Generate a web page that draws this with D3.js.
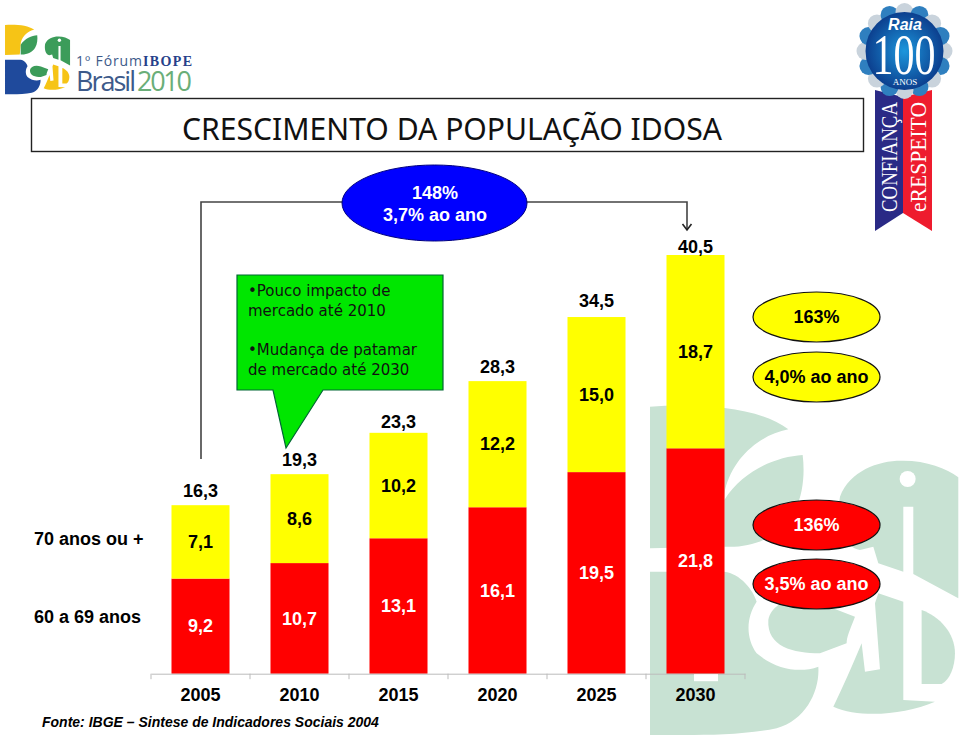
<!DOCTYPE html>
<html><head><meta charset="utf-8">
<script src="https://cdnjs.cloudflare.com/ajax/libs/d3/7.8.5/d3.min.js"></script>
<style>html,body{margin:0;background:#fff}svg{display:block}text{font-family:"Liberation Sans",Arial,sans-serif}</style>
</head><body><svg id="c" width="960" height="736"></svg>
<script>
const years = ["2005","2010","2015","2020","2025","2030"];
const age60to69 = [9.2,10.7,13.1,16.1,19.5,21.8];
const age70plus = [7.1,8.6,10.2,12.2,15.0,18.7];
const seriesNames = ["60 a 69 anos","70 anos ou +"];
const seriesColors = ["#ff0000","#ffff00"];
const seriesLabelColors = ["#ffffff","#000000"];
const totalLift = [14,14,11,14,16,8];

const svg = d3.select("#c");
const fmt = d3.formatLocale({decimal:",",thousands:".",grouping:[3],currency:["",""]}).format(".1f");
const x = d3.scaleBand().domain(years).range([151,745]).paddingInner(0.414).paddingOuter(0.207);
const y = d3.scaleLinear().domain([0,40.5]).range([673.7,255]);

// logo artwork (shared by the watermark and the top-left logo)
const logoShapes = [
 {d:"M90,50 C230,40 420,50 505,118 C420,135 340,200 315,300 L300,470 L90,475Z", c:"#f6c416"},
 {d:"M548,195 C470,200 370,240 313,330 L313,470 C400,475 480,440 520,370 C550,320 555,250 548,195Z", c:"#3c9c5a"},
 {d:"M90,545 L313,545 C360,550 400,600 410,635 C380,680 375,740 410,790 C470,840 540,850 595,830 C600,900 560,990 470,1015 C350,1040 200,1035 90,1035Z", c:"#1f4a9c"},
 {d:"M445,690 C455,640 520,610 600,640 L705,680 C690,720 680,740 680,760 L600,790 C520,790 440,770 445,690Z", c:"#3c9c5a"},
 {d:"M775,610 L850,635 L850,930 L945,935 C850,975 720,985 640,950 C665,900 700,820 725,760 L735,845 L780,838 L765,640Z", c:"#f6c416"},
 {d:"M905,660 C960,680 1005,730 1005,790 C1005,830 990,870 965,882 L905,882Z", c:"#f6c416"},
 {d:"M660,320 C690,240 780,210 850,212 C920,212 980,235 1015,262 L1015,625 L880,552 L880,350 L850,350 L850,545 L775,520 L760,470 L720,480 C660,470 650,380 660,320Z", c:"#3c9c5a"}
];
function drawLogo(g, colorFn){
  g.selectAll("path").data(logoShapes).join("path").attr("d",d=>d.d).attr("fill",colorFn);
  g.append("circle").attr("cx",863).attr("cy",267).attr("r",24).attr("fill","#fff");
}
drawLogo(svg.append("g").attr("transform","translate(620,390) scale(0.3333)"), ()=>"#c8e2d3");
drawLogo(svg.append("g").attr("transform","translate(-1.3,21.5) scale(0.0703)"), d=>d.c);

// logo wordmark
svg.append("text").attr("x",76).attr("y",66).attr("font-size",14).attr("fill","#3d5a8a").style("font-family","Open Sans").attr("textLength",66).text("1º Fórum");
svg.append("text").attr("x",143).attr("y",66).attr("font-size",14).attr("font-weight","bold").attr("fill","#26408a").style("font-family","Liberation Serif").attr("textLength",49).text("IBOPE");
svg.append("text").attr("x",76).attr("y",91).attr("font-size",27).attr("fill","#3d5a8a").style("font-family","Open Sans").attr("textLength",60).text("Brasil");
svg.append("text").attr("x",137).attr("y",91).attr("font-size",27).attr("fill","#6aae78").style("font-family","Open Sans").attr("textLength",55).text("2010");

// title box
svg.append("rect").attr("x",31.5).attr("y",98.5).attr("width",832).attr("height",53).attr("fill","#fff").attr("stroke","#222").attr("stroke-width",1.4);
svg.append("text").attr("x",182).attr("y",140).attr("font-size",31).attr("fill","#111").style("font-family","Noto Sans").attr("textLength",540).attr("lengthAdjust","spacingAndGlyphs").text("CRESCIMENTO DA POPULAÇÃO IDOSA");

// ribbon + rosette
svg.append("path").attr("d","M875,90 L903,97 L903,213 L875,231Z").attr("fill","#2a2a86");
svg.append("path").attr("d","M903,97 L932,90 L932,231 L903,213Z").attr("fill","#ee1c2e");
const vt=(xx,txt,fs,len)=>svg.append("text").attr("transform",`translate(${xx},212) rotate(-90)`).attr("fill","#fff").attr("font-size",fs).style("font-family","Liberation Serif").attr("textLength",len).attr("lengthAdjust","spacingAndGlyphs").text(txt);
vt(897,"CONFIANÇA",23,110);
vt(926,"eRESPEITO",23,110);
const defs=svg.append("defs");
const rg=defs.append("radialGradient").attr("id","rg");
rg.append("stop").attr("offset","0%").attr("stop-color","#1c96dc");
rg.append("stop").attr("offset","100%").attr("stop-color","#0c3f8e");
const n=16, rc=[904.5,51];
d3.range(n).forEach(i=>{
  const a=i/n*2*Math.PI;
  svg.append("circle").attr("cx",rc[0]+39*Math.cos(a)).attr("cy",rc[1]+39*Math.sin(a)).attr("r",9).attr("fill",i%2?"#2f7fbf":"#c9d3dc");
});
svg.append("circle").attr("cx",rc[0]).attr("cy",rc[1]).attr("r",39).attr("fill","url(#rg)");
svg.append("text").attr("x",905).attr("y",30).attr("text-anchor","middle").attr("font-size",16).attr("font-weight","bold").attr("font-style","italic").attr("fill","#fff").text("Raia");
svg.append("text").attr("x",904).attr("y",74).attr("text-anchor","middle").attr("font-size",56).attr("fill","#fff").style("font-family","Liberation Serif").attr("textLength",63).attr("lengthAdjust","spacingAndGlyphs").text("100");
svg.append("text").attr("x",905).attr("y",85).attr("text-anchor","middle").attr("font-size",9).attr("fill","#fff").style("font-family","Liberation Serif").text("ANOS");

// stacked bars
const rows = years.map((yr,i)=>({year:yr,a:age60to69[i],b:age70plus[i]}));
const stacked = d3.stack().keys(["a","b"])(rows);
const layer = svg.append("g").selectAll("g").data(stacked).join("g");
layer.selectAll("rect").data((s,k)=>s.map(p=>({p,k}))).join("rect")
  .attr("x",d=>x(d.p.data.year)).attr("width",x.bandwidth())
  .attr("y",d=>y(d.p[1])).attr("height",d=>y(d.p[0])-y(d.p[1]))
  .attr("fill",d=>seriesColors[d.k]);
layer.selectAll("text").data((s,k)=>s.map(p=>({p,k}))).join("text")
  .attr("x",d=>x(d.p.data.year)+x.bandwidth()/2).attr("y",d=>(y(d.p[0])+y(d.p[1]))/2)
  .attr("dy","0.35em").attr("text-anchor","middle").attr("font-size",18).attr("font-weight","bold")
  .attr("fill",d=>seriesLabelColors[d.k]).text(d=>fmt(d.k?d.p.data.b:d.p.data.a));
svg.append("g").selectAll("text").data(rows).join("text")
  .attr("x",d=>x(d.year)+x.bandwidth()/2).attr("y",(d,i)=>y(d.a+d.b)-totalLift[i])
  .attr("dy","0.35em").attr("text-anchor","middle").attr("font-size",18).attr("font-weight","bold").attr("fill","#000")
  .text(d=>fmt(d.a+d.b));

// axis
const ax = svg.append("g").attr("transform",`translate(0,${y(0)})`).call(d3.axisBottom(x).tickSize(0).tickPadding(15));
ax.select(".domain").attr("stroke","#bbb");
ax.selectAll("text").attr("font-size",18).attr("font-weight","bold").attr("fill","#000").style("font-family","Liberation Sans");
svg.append("g").selectAll("line").data(d3.range(years.length+1)).join("line")
  .attr("x1",i=>x.range()[0]+i*x.step()).attr("x2",i=>x.range()[0]+i*x.step())
  .attr("y1",y(0)).attr("y2",y(0)+5.5).attr("stroke","#bbb");
svg.append("rect").attr("x",694).attr("y",y(0)+.5).attr("width",24).attr("height",7).attr("fill","#fff");

// row labels
[[617,0],[539,1]].forEach(([yy,k])=>svg.append("text").attr("x",34).attr("y",yy).attr("dy","0.35em").attr("font-size",18).attr("font-weight","bold").attr("fill","#000").text(seriesNames[k]));

// source
svg.append("text").attr("x",42).attr("y",727).attr("font-size",14).attr("font-weight","bold").attr("font-style","italic").attr("fill","#000").text("Fonte: IBGE – Sintese de Indicadores Sociais 2004");

// growth bracket
svg.append("path").attr("d","M201,459 V202 H687 V230").attr("fill","none").attr("stroke","#444").attr("stroke-width",1.6);
svg.append("path").attr("d","M682.5,224 L687,230 L691.5,224").attr("fill","none").attr("stroke","#222").attr("stroke-width",1.6);
svg.append("ellipse").attr("cx",434.5).attr("cy",203).attr("rx",92.5).attr("ry",38).attr("fill","#0000ff").attr("stroke","#000080");
const ell=(cy,fill,col,txt)=>{
  svg.append("ellipse").attr("cx",816.5).attr("cy",cy).attr("rx",63.5).attr("ry",25).attr("fill",fill).attr("stroke","#111").attr("stroke-width",1.2);
  svg.append("text").attr("x",816.5).attr("y",cy).attr("dy","0.35em").attr("text-anchor","middle").attr("font-size",18).attr("font-weight","bold").attr("fill",col).text(txt);
};
svg.append("text").attr("x",435).attr("y",193).attr("dy","0.35em").attr("text-anchor","middle").attr("font-size",18).attr("font-weight","bold").attr("fill","#fff").text("148%");
svg.append("text").attr("x",435).attr("y",215).attr("dy","0.35em").attr("text-anchor","middle").attr("font-size",18).attr("font-weight","bold").attr("fill","#fff").text("3,7% ao ano");
ell(317,"#ffff00","#000","163%");
ell(377,"#ffff00","#000","4,0% ao ano");
ell(525,"#ff0000","#fff","136%");
ell(584,"#ff0000","#fff","3,5% ao ano");

// callout
svg.append("path").attr("d","M237,275 H443 V390 H323 L286,448 L273,390 H237Z").attr("fill","#00e600").attr("stroke","#063").attr("stroke-width",1.2);
[["•Pouco impacto de",248,296],["mercado até 2010",248,316],["•Mudança de patamar",248,355],["de mercado até 2030",248,375]].forEach(([t,xx,yy])=>
  svg.append("text").attr("x",xx).attr("y",yy).attr("font-size",15).attr("fill","#111").style("font-family","DejaVu Sans").text(t));
</script></body></html>
